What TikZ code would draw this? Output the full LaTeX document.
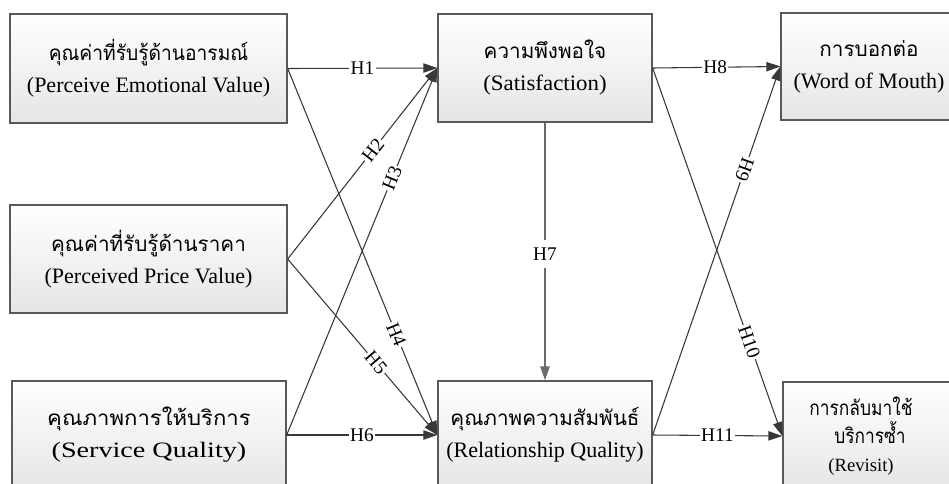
\documentclass[tikz,border=0pt]{standalone}
\usepackage{fontspec}
\setmainfont{Liberation Serif}
\newfontfamily\thaifont[Script=Thai]{Loma}
\usetikzlibrary{arrows.meta}
\newcommand\thl[1]{{\thaifont\fontsize{15.5}{24}\selectfont #1}}
\begin{document}
\begin{tikzpicture}[x=0.75pt,y=-0.75pt,
  box/.style={draw=black!65, line width=1pt, top color=white, bottom color=black!10,
    align=center, inner sep=0pt, font=\fontsize{16.5}{24}\selectfont},
  arr/.style={draw=black!78, line width=0.8pt, -{Triangle[length=10.5pt,width=7pt]}},
  lab/.style={fill=white, inner sep=1pt, text=black, font=\fontsize{14.5}{14.5}\selectfont}]
\clip (0,0) rectangle (949,483);
\fill[white] (0,0) rectangle (949,483);
% boxes
\node[box, minimum width=207.75pt, minimum height=81.75pt] (pev) at (148.5,68.5)
  {\thl{\scalebox{0.93}[1]{คุณค่าที่รับรู้ด้านอารมณ์}}\\(Perceive Emotional Value)};
\node[box, minimum width=207.75pt, minimum height=81pt] (ppv) at (148.5,259)
  {\thl{คุณค่าที่รับรู้ด้านราคา}\\(Perceived Price Value)};
\node[box, minimum width=205.5pt, minimum height=81pt] (sq) at (149,435)
  {\thl{\scalebox{1.07}[1]{คุณภาพการให้บริการ}}\\\scalebox{1.28}[1]{(Service Quality)}};
\node[box, minimum width=160.5pt, minimum height=81pt] (sat) at (545,68)
  {\thl{ความพึงพอใจ}\\\scalebox{1.04}[1]{(Satisfaction)}};
\node[box, minimum width=160.5pt, minimum height=81pt] (rq) at (545,435)
  {\thl{คุณภาพความสัมพันธ์}\\(Relationship Quality)};
\node[box, minimum width=132pt, minimum height=80.25pt] (wom) at (869,66.5)
  {\thl{การบอกต่อ}\\(Word of Mouth)};
\node[box, minimum width=130.5pt, minimum height=81pt, font=\fontsize{14}{21}\selectfont] (rev) at (870,436)
  {{\thaifont\fontsize{15.5}{24}\selectfont\scalebox{0.84}[1]{การกลับมาใช้}}\hspace*{13.5pt}\\{\thaifont\fontsize{15.5}{23}\selectfont\scalebox{0.84}[1]{บริการซ้ำ}}\hspace*{13.5pt}\\(Revisit)\hspace*{13.5pt}};
% connectors
\draw[arr] (pev.east) -- node[lab,pos=0.5]{H1} (sat.west);
\draw[arr] (ppv.east) -- node[lab,sloped,pos=0.57]{H2} (sat.west);
\draw[arr] (sq.east) -- node[lab,sloped,pos=0.70]{H3} (sat.west);
\draw[arr] (pev.east) -- node[lab,sloped,pos=0.726]{H4} (rq.west);
\draw[arr] (ppv.east) -- node[lab,sloped,pos=0.59]{H5} (rq.west);
\draw[arr] (sq.east) -- node[lab,pos=0.5]{H6} (rq.west);
\draw[arr, line width=1.4pt, draw=black!58] (sat.south) -- node[lab,pos=0.51,inner ysep=6pt]{H7} (rq.north);
\draw[arr] (sat.east) -- node[lab,pos=0.49]{H8} (wom.west);
\draw[arr] (rq.east) -- node[lab,pos=0.72,rotate=-109.3]{H9} (wom.west);
\draw[arr] (sat.east) -- node[lab,sloped,pos=0.745]{H10} (rev.west);
\draw[arr] (rq.east) -- node[lab,pos=0.5]{H11} (rev.west);
\end{tikzpicture}
\end{document}
